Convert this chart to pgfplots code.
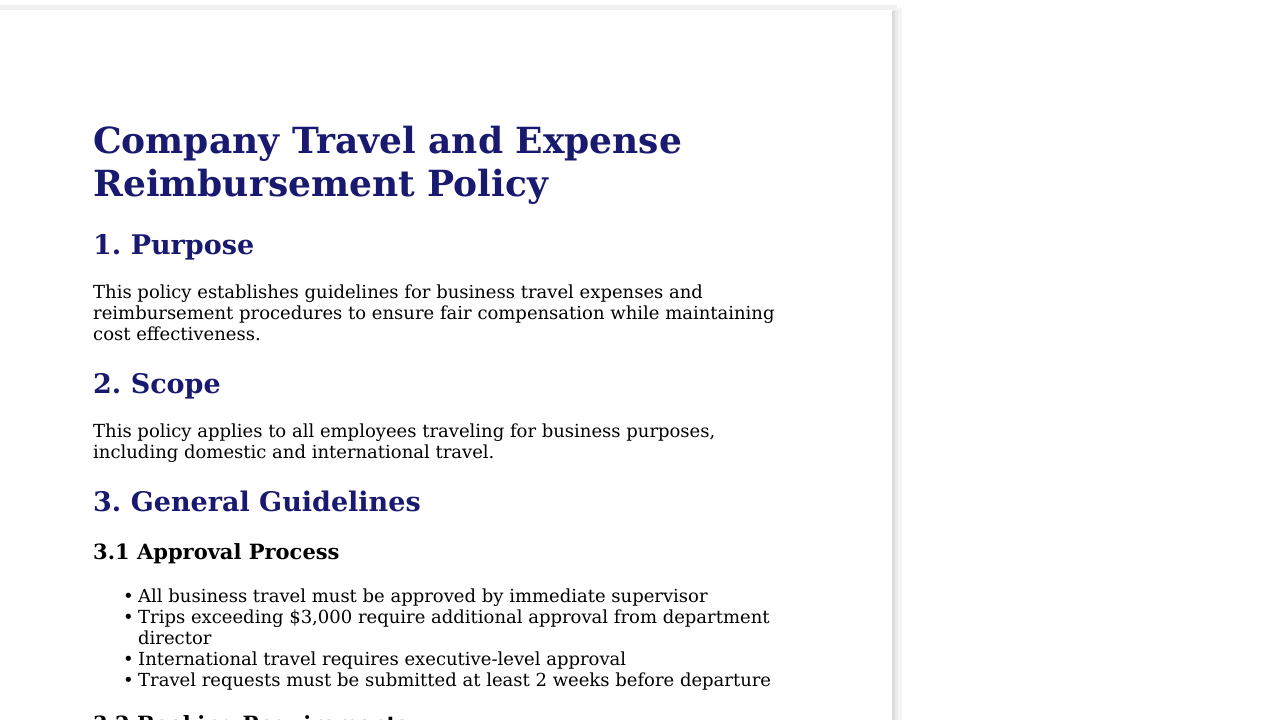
\documentclass[border=0pt]{standalone}
\usepackage{pgfplots}
\pgfplotsset{compat=1.18}
\usepackage{fontspec}
\setmainfont{DejaVu Serif}
\frenchspacing
\definecolor{navy}{HTML}{191970}
\begin{document}
\begin{tikzpicture}
\begin{axis}[name=a, width=1280pt, height=720pt, scale only axis, xmin=0, xmax=1280, ymin=0, ymax=720, y dir=reverse, axis lines=none, clip=false]
\fill[black!4] (axis cs:893,8) rectangle (axis cs:902,720);
\fill[black!8] (axis cs:893,10) rectangle (axis cs:898,720);
\fill[black!14] (axis cs:892,11) rectangle (axis cs:895,720);
\fill[black!6] (axis cs:-2,5) rectangle (axis cs:897,10);
\fill[white] (axis cs:0,10) rectangle (axis cs:892,720);
\tikzset{t/.style={anchor=base west, inner sep=0pt, font=\fontsize{18}{21}\selectfont}}
\node[t, font=\fontsize{36}{43}\bfseries, text=navy] at (axis cs:93,153) {Company Travel and Expense};
\node[t, font=\fontsize{36}{43}\bfseries, text=navy] at (axis cs:93,196) {Reimbursement Policy};
\node[t, font=\fontsize{27}{32}\bfseries, text=navy] at (axis cs:93,254) {1. Purpose};
\node[t] at (axis cs:93,298) {This policy establishes guidelines for business travel expenses and};
\node[t] at (axis cs:93,319) {reimbursement procedures to ensure fair compensation while maintaining};
\node[t] at (axis cs:93,340) {cost effectiveness.};
\node[t, font=\fontsize{27}{32}\bfseries, text=navy] at (axis cs:93,393) {2. Scope};
\node[t] at (axis cs:93,437) {This policy applies to all employees traveling for business purposes,};
\node[t] at (axis cs:93,458) {including domestic and international travel.};
\node[t, font=\fontsize{27}{32}\bfseries, text=navy] at (axis cs:93,511) {3. General Guidelines};
\node[t, font=\fontsize{21}{25}\bfseries] at (axis cs:93,559) {3.1 Approval Process};
\node[t] at (axis cs:123,602) {•};
\node[t] at (axis cs:138,602) {All business travel must be approved by immediate supervisor};
\node[t] at (axis cs:123,623) {•};
\node[t] at (axis cs:138,623) {Trips exceeding \$3,000 require additional approval from department};
\node[t] at (axis cs:138,644) {director};
\node[t] at (axis cs:123,665) {•};
\node[t] at (axis cs:138,665) {International travel requires executive-level approval};
\node[t] at (axis cs:123,686) {•};
\node[t] at (axis cs:138,686) {Travel requests must be submitted at least 2 weeks before departure};
\node[t, font=\fontsize{21}{25}\bfseries] at (axis cs:93,731) {3.2 Booking Requirements};
\end{axis}
\pgfresetboundingbox
\path[use as bounding box] (a.south west) rectangle (a.north east);
\end{tikzpicture}
\end{document}
